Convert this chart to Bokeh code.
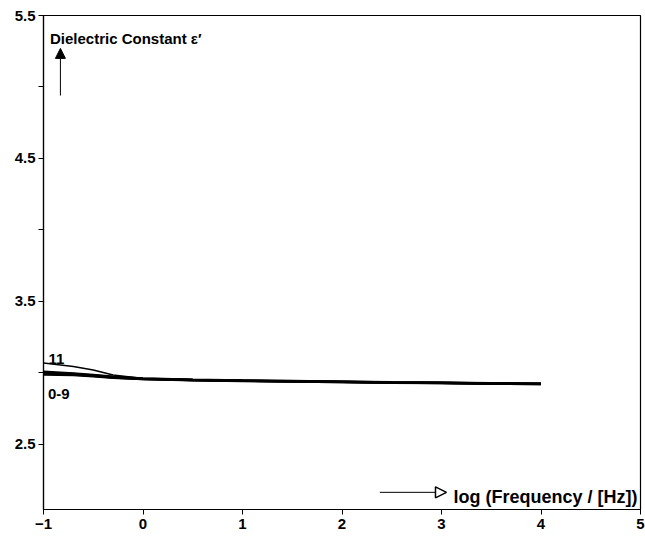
from bokeh.plotting import figure
from bokeh.models import FixedTicker, Range1d, Arrow, NormalHead
from bokeh.core.properties import value
from bokeh.embed import file_html
from bokeh.resources import INLINE

# log frequency (Hz)
log_f = [-1.0, -0.7, -0.5, -0.3, 0.0, 0.5, 1.0, 1.5, 2.0, 2.5, 3.0, 3.5, 4.0]
# dielectric constant curves
eps_11 = [3.07, 3.045, 3.02, 2.985, 2.962, 2.952, 2.947, 2.943, 2.939, 2.935, 2.932, 2.928, 2.925]
eps_0 = [3.008, 2.997, 2.986, 2.973, 2.962, 2.952, 2.947, 2.943, 2.939, 2.935, 2.932, 2.928, 2.925]
eps_3 = [3.002, 2.993, 2.983, 2.971, 2.960, 2.951, 2.946, 2.942, 2.938, 2.934, 2.931, 2.927, 2.924]
eps_6 = [2.996, 2.989, 2.980, 2.969, 2.958, 2.950, 2.945, 2.941, 2.937, 2.933, 2.930, 2.926, 2.923]
eps_9 = [2.99, 2.985, 2.977, 2.967, 2.957, 2.949, 2.944, 2.940, 2.936, 2.932, 2.929, 2.925, 2.922]

y_ticks = [2.5, 3.5, 4.5, 5.5]
y_minor = [3.0, 4.0, 5.0]
x_ticks = [-1, 0, 1, 2, 3, 4, 5]

FONT = "Liberation Sans"

p = figure(width=645, height=540, output_backend="svg", toolbar_location=None,
           x_range=Range1d(-1, 5), y_range=Range1d(2.045, 5.5),
           min_border_left=43, min_border_right=5, min_border_top=15, min_border_bottom=31)
p.background_fill_color = "white"
p.border_fill_color = "white"
p.outline_line_color = "black"
p.outline_line_width = 1.2
p.grid.visible = False

p.yaxis.ticker = FixedTicker(ticks=y_ticks, minor_ticks=y_minor)
p.xaxis.ticker = FixedTicker(ticks=x_ticks, minor_ticks=[])
p.xaxis.major_label_overrides = {-1: "\u22121"}
for ax in (p.xaxis, p.yaxis):
    ax.axis_line_color = "black"
    ax.axis_line_width = 1.2
    ax.major_tick_line_color = "black"
    ax.minor_tick_line_color = "black"
    ax.major_tick_in = 0
    ax.major_tick_out = 5
    ax.minor_tick_in = 0
    ax.minor_tick_out = 5
    ax.major_label_text_font = FONT
    ax.major_label_text_font_style = "bold"
    ax.major_label_text_font_size = "15px"
    ax.major_label_text_color = "black"
p.xaxis.major_label_standoff = 4
p.yaxis.major_label_standoff = 3

for ys in (eps_0, eps_3, eps_6, eps_9):
    p.line(log_f, ys, line_color="black", line_width=2.5)
p.line(log_f, eps_11, line_color="black", line_width=1.5)

p.text(x=[-0.935], y=[5.34], text=["Dielectric Constant \u03b5\u2032"],
       text_font=value(FONT), text_font_style="bold", text_font_size="15px",
       text_baseline="alphabetic", text_align="left", text_color="black")
p.text(x=[4.97], y=[2.13], text=["log (Frequency / [Hz])"],
       text_font=value(FONT), text_font_style="bold", text_font_size="18px",
       text_baseline="alphabetic", text_align="right", text_color="black")
p.text(x=[-0.95], y=[3.095], text=["11"],
       text_font=value(FONT), text_font_style="bold", text_font_size="15px",
       text_baseline="alphabetic", text_align="left", text_color="black")
p.text(x=[-0.955], y=[2.855], text=["0-9"],
       text_font=value(FONT), text_font_style="bold", text_font_size="15px",
       text_baseline="alphabetic", text_align="left", text_color="black")

p.add_layout(Arrow(end=NormalHead(size=10, fill_color="black", line_color="black"),
                   x_start=-0.83, y_start=4.94, x_end=-0.83, y_end=5.27,
                   line_color="black", line_width=1))
p.add_layout(Arrow(end=NormalHead(size=11, fill_color="white", line_color="black", line_width=1.5),
                   x_start=2.38, y_start=2.165, x_end=3.05, y_end=2.165,
                   line_color="black", line_width=1))

open("out.html", "w").write(file_html(p, INLINE))
